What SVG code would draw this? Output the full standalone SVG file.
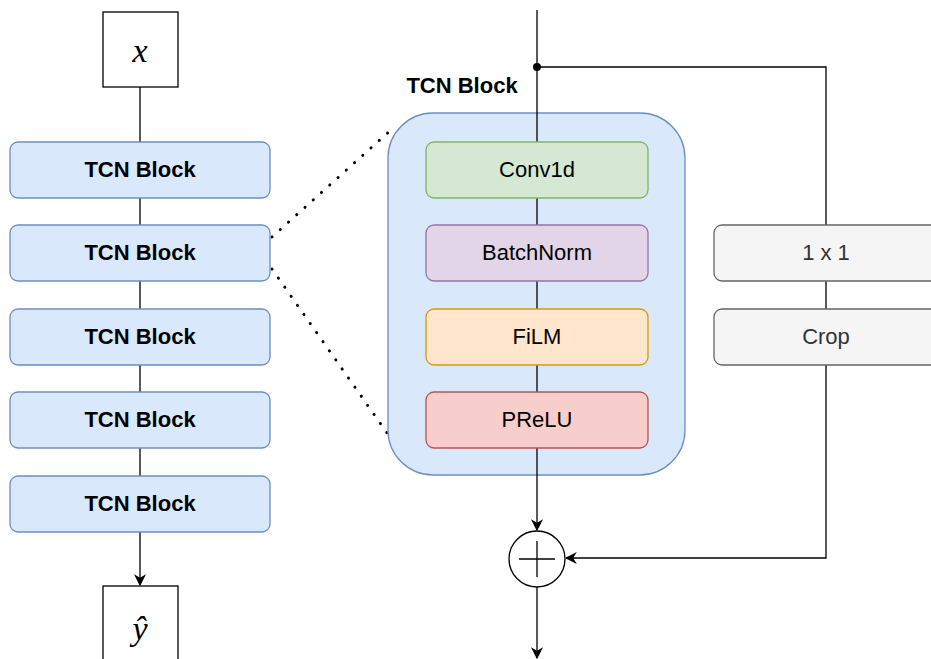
<svg xmlns="http://www.w3.org/2000/svg" width="931" height="659" viewBox="0 0 931 659">
<defs>
<style>
.ln{stroke:#000;stroke-width:1.3;fill:none}
.blk{fill:#dae8fc;stroke:#6c8ebf;stroke-width:1.3}
.t{font-family:"Liberation Sans",Arial,sans-serif;font-size:22px;text-anchor:middle;dominant-baseline:central;fill:#000}
.b{font-weight:bold}
.math{font-family:"Liberation Serif","DejaVu Serif",serif;font-style:italic;font-size:34px;text-anchor:middle;dominant-baseline:central}
</style>
<marker id="ah" viewBox="0 0 10 10" refX="9" refY="5" markerWidth="12" markerHeight="12" markerUnits="userSpaceOnUse" orient="auto">
<path d="M0,0 L10,5 L0,10 L3,5 Z" fill="#000"/>
</marker>
</defs>
<rect width="931" height="659" fill="#fff"/>
<g id="connectors">
<line class="ln" x1="140" y1="87" x2="140" y2="142"/>
<line class="ln" x1="140" y1="198" x2="140" y2="225"/>
<line class="ln" x1="140" y1="281" x2="140" y2="309"/>
<line class="ln" x1="140" y1="365" x2="140" y2="392"/>
<line class="ln" x1="140" y1="448" x2="140" y2="476"/>
<line class="ln" x1="140" y1="532" x2="140" y2="585" marker-end="url(#ah)"/>
<line x1="272" y1="237" x2="392" y2="129" stroke="#000" stroke-width="3" stroke-dasharray="0.1 11" stroke-linecap="round"/>
<line x1="272" y1="269" x2="392" y2="440" stroke="#000" stroke-width="3" stroke-dasharray="0.1 11" stroke-linecap="round"/>
</g>
<g id="tcn-group">
<rect x="388" y="113" width="297" height="362" rx="45" fill="#dae8fc" stroke="#6c8ebf" stroke-width="1.3"/>
<text class="t b" x="462" y="85">TCN Block</text>
</g>
<g id="connectors2">
<line class="ln" x1="537" y1="10" x2="537" y2="142"/>
<circle cx="537" cy="67" r="4" fill="#000"/>
<polyline class="ln" points="537,67 826,67 826,225"/>
<line class="ln" x1="826" y1="281" x2="826" y2="309"/>
<polyline class="ln" points="826,365 826,558 566,558" marker-end="url(#ah)"/>
<line class="ln" x1="537" y1="198" x2="537" y2="225"/>
<line class="ln" x1="537" y1="281" x2="537" y2="309"/>
<line class="ln" x1="537" y1="365" x2="537" y2="392"/>
<line class="ln" x1="537" y1="448" x2="537" y2="530" marker-end="url(#ah)"/>
<line class="ln" x1="537" y1="587" x2="537" y2="658" marker-end="url(#ah)"/>
</g>
<g id="x"><rect x="103" y="12" width="75" height="75" fill="#fff" stroke="#000" stroke-width="1.3"/><text class="math" x="140" y="50">x</text></g>
<g id="blk1"><rect class="blk" x="10" y="142" width="260" height="56" rx="8"/><text class="t b" x="140" y="169">TCN Block</text></g>
<g id="blk2"><rect class="blk" x="10" y="225" width="260" height="56" rx="8"/><text class="t b" x="140" y="252">TCN Block</text></g>
<g id="blk3"><rect class="blk" x="10" y="309" width="260" height="56" rx="8"/><text class="t b" x="140" y="336">TCN Block</text></g>
<g id="blk4"><rect class="blk" x="10" y="392" width="260" height="56" rx="8"/><text class="t b" x="140" y="419">TCN Block</text></g>
<g id="blk5"><rect class="blk" x="10" y="476" width="260" height="56" rx="8"/><text class="t b" x="140" y="503">TCN Block</text></g>
<g id="yhat"><rect x="103" y="586" width="75" height="90" fill="#fff" stroke="#000" stroke-width="1.3"/><text class="math" x="140" y="628">ŷ</text></g>
<g id="conv1d"><rect x="426" y="142" width="222" height="56" rx="8" fill="#d5e8d4" stroke="#82b366" stroke-width="1.3"/><text class="t" x="537" y="169">Conv1d</text></g>
<g id="batchnorm"><rect x="426" y="225" width="222" height="56" rx="8" fill="#e1d5e7" stroke="#9673a6" stroke-width="1.3"/><text class="t" x="537" y="252">BatchNorm</text></g>
<g id="film"><rect x="426" y="309" width="222" height="56" rx="8" fill="#ffe6cc" stroke="#d79b00" stroke-width="1.3"/><text class="t" x="537" y="336">FiLM</text></g>
<g id="prelu"><rect x="426" y="392" width="222" height="56" rx="8" fill="#f8cecc" stroke="#b85450" stroke-width="1.3"/><text class="t" x="537" y="419">PReLU</text></g>
<g id="onebyone"><rect x="714" y="225" width="240" height="56" rx="8" fill="#f5f5f5" stroke="#666" stroke-width="1.3"/><text class="t" x="826" y="252" style="fill:#333">1 x 1</text></g>
<g id="crop"><rect x="714" y="309" width="240" height="56" rx="8" fill="#f5f5f5" stroke="#666" stroke-width="1.3"/><text class="t" x="826" y="336" style="fill:#333">Crop</text></g>
<g id="sum"><circle cx="537" cy="559" r="28" fill="#fff" stroke="#000" stroke-width="1.3"/><line class="ln" x1="519" y1="559" x2="555" y2="559"/><line class="ln" x1="537" y1="541" x2="537" y2="577"/></g>
</svg>
